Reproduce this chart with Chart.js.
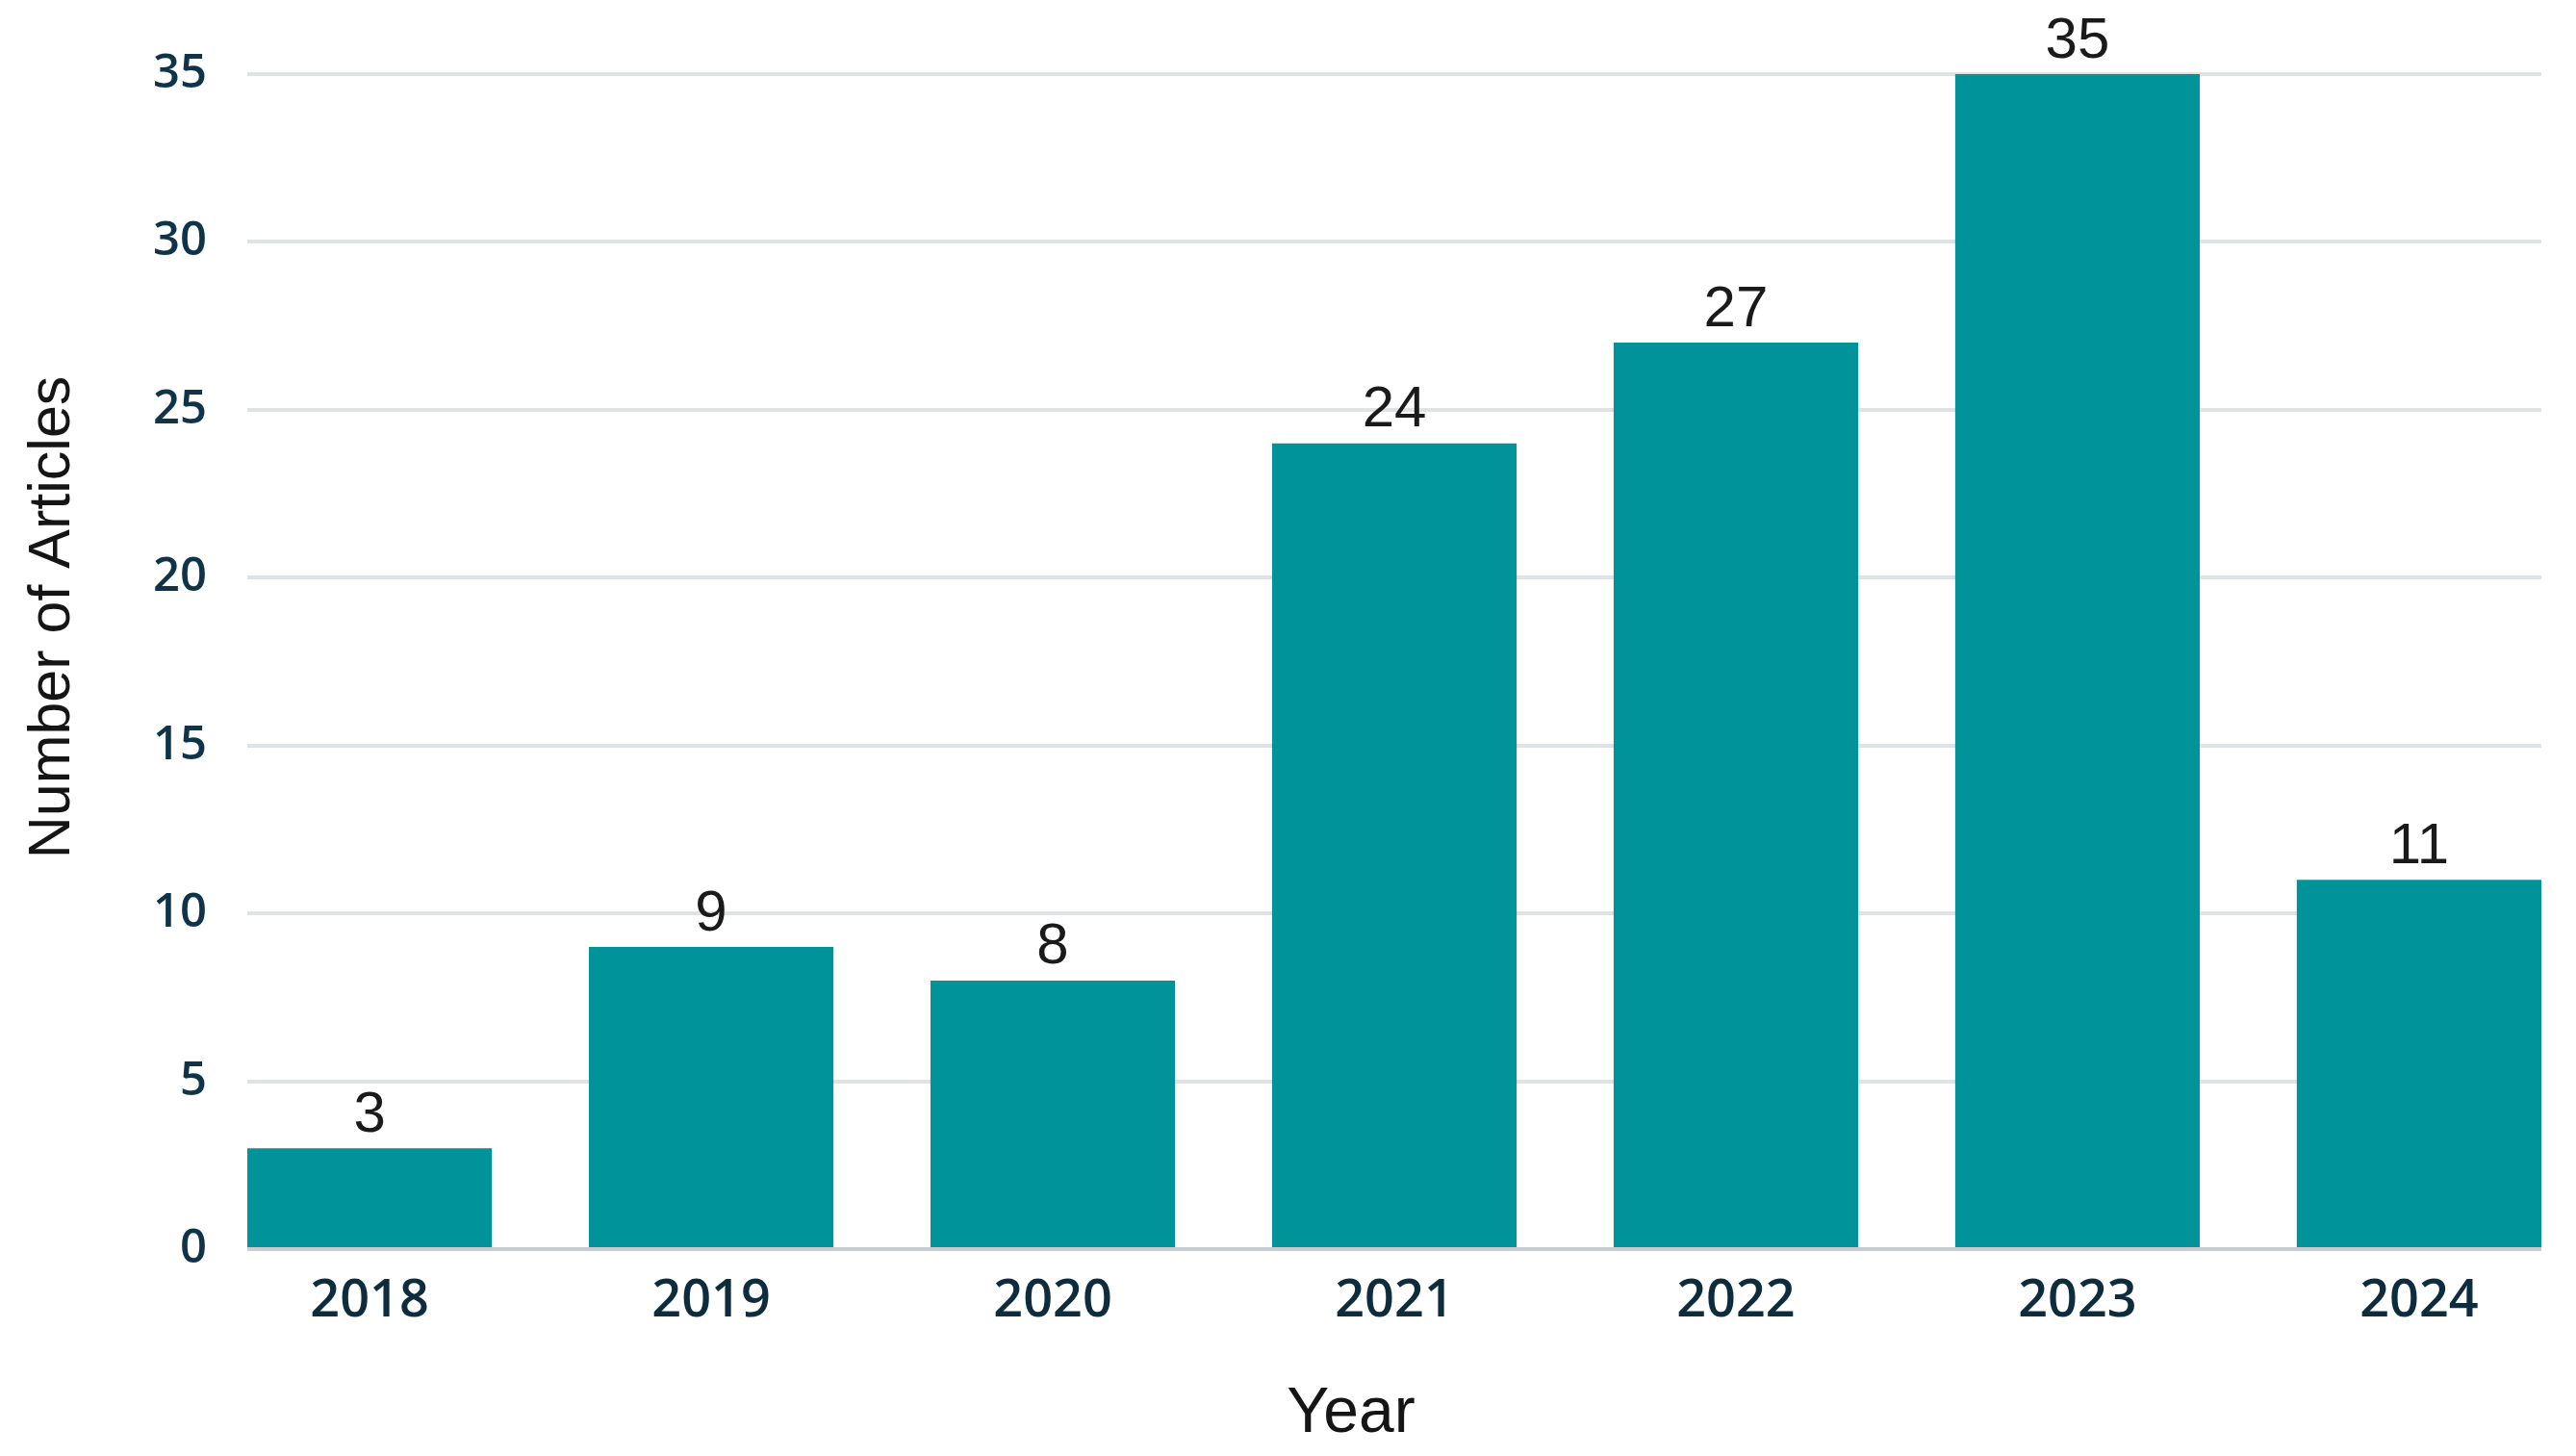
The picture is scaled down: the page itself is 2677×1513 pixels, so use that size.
<!DOCTYPE html>
<html>
<head>
<meta charset="utf-8">
<script src="https://cdn.jsdelivr.net/npm/chart.js@4.4.1/dist/chart.umd.min.js"></script>
<style>
  html, body { margin: 0; padding: 0; background: #ffffff; }
  canvas { display: block; }
</style>
</head>
<body>
<canvas id="articlesChart" width="2677" height="1513"></canvas>
<script>
const years = [2018, 2019, 2020, 2021, 2022, 2023, 2024];
const articleCounts = [3, 9, 8, 24, 27, 35, 11];
const yTicks = [0, 5, 10, 15, 20, 25, 30, 35];
const xTitle = 'Year';
const yTitle = 'Number of Articles';

const barFrac = 0.716;

// value labels on top of bars
const valueLabels = {
    id: 'valueLabels',
    afterDatasetsDraw(chart) {
        const ctx = chart.ctx;
        const meta = chart.getDatasetMeta(0);
        ctx.save();
        ctx.font = '60px "Liberation Sans", Arial, sans-serif';
        ctx.fillStyle = '#1a1a1a';
        ctx.textAlign = 'center';
        ctx.textBaseline = 'bottom';
        meta.data.forEach(function (bar, i) {
            ctx.fillText(String(articleCounts[i]), bar.x, bar.y - 4);
        });
        ctx.restore();
    }
};

// axis titles, set a bit off the plot centre like in the original
const axisTitles = {
    id: 'axisTitles',
    afterDraw(chart) {
        const ctx = chart.ctx;
        const area = chart.chartArea;
        const cx = (area.left + area.right) / 2;
        const cy = (area.top + area.bottom) / 2;
        ctx.save();
        ctx.fillStyle = '#151515';
        ctx.textAlign = 'center';
        ctx.textBaseline = 'middle';
        ctx.font = '66px "Liberation Sans", Arial, sans-serif';
        ctx.fillText(xTitle, cx - 45, 1470);
        ctx.font = '61px "Liberation Sans", Arial, sans-serif';
        ctx.translate(55, cy - 46);
        ctx.rotate(-Math.PI / 2);
        ctx.fillText(yTitle, 0, 0);
        ctx.restore();
    }
};

const points = years.map(function (y, i) {
    return { x: y, y: articleCounts[i] };
});

const ctx = document.getElementById('articlesChart').getContext('2d');
const myChart = new Chart(ctx, {
    type: 'bar',
    data: {
        datasets: [{
            data: points,
            backgroundColor: '#00939a',
            borderWidth: 0,
            barPercentage: barFrac,
            categoryPercentage: 1
        }]
    },
    plugins: [valueLabels, axisTitles],
    options: {
        responsive: false,
        animation: false,
        devicePixelRatio: 1,
        layout: { padding: { top: 77, right: 36, bottom: 0, left: 0 } },
        plugins: {
            legend: { display: false },
            tooltip: { enabled: false }
        },
        scales: {
            x: {
                type: 'linear',
                offset: false,
                min: years[0] - barFrac / 2,
                max: years[years.length - 1] + barFrac / 2,
                afterBuildTicks: function (scale) {
                    scale.ticks = years.map(function (v) { return { value: v }; });
                },
                afterFit: function (scale) { scale.height = 215; },
                grid: { display: false, drawTicks: false, offset: false },
                border: { display: false },
                ticks: {
                    padding: 22,
                    color: '#0d2c3d',
                    font: { family: '"Open Sans", sans-serif', size: 54, weight: '600' },
                    callback: function (v) { return String(v); }
                }
            },
            y: {
                min: 0,
                max: 35,
                afterBuildTicks: function (scale) {
                    scale.ticks = yTicks.map(function (v) { return { value: v }; });
                },
                afterFit: function (scale) { scale.width = 257; },
                grid: {
                    drawTicks: false,
                    lineWidth: 4,
                    color: function (c) { return c.tick && c.tick.value === 0 ? '#c9cdd1' : '#dfe3e6'; }
                },
                border: { display: false },
                ticks: {
                    padding: 42,
                    color: '#0f3449',
                    font: { family: '"Open Sans", sans-serif', size: 49, weight: '600' }
                }
            }
        }
    }
});
</script>
</body>
</html>
